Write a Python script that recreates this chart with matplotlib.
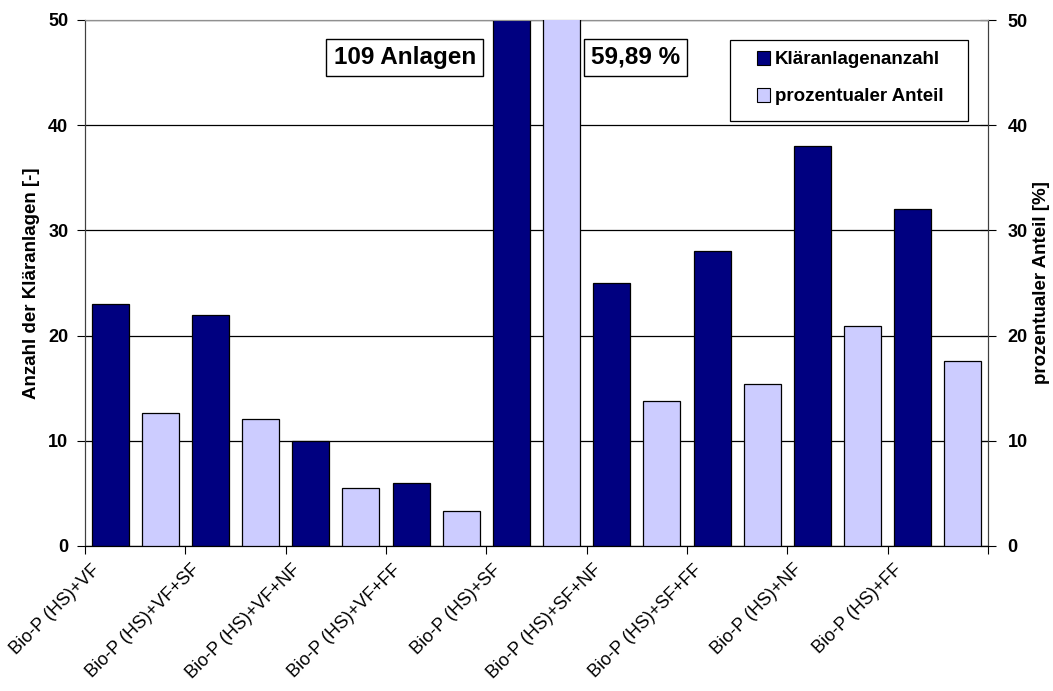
import numpy as np
import matplotlib
matplotlib.use("Agg")
import matplotlib.pyplot as plt
from matplotlib.patches import Patch, Rectangle
from matplotlib.legend_handler import HandlerPatch
from matplotlib.transforms import ScaledTranslation

plt.rcParams['font.family'] = ['Liberation Sans', 'DejaVu Sans']

categories = ['Bio-P (HS)+VF', 'Bio-P (HS)+VF+SF', 'Bio-P (HS)+VF+NF',
              'Bio-P (HS)+VF+FF', 'Bio-P (HS)+SF', 'Bio-P (HS)+SF+NF',
              'Bio-P (HS)+SF+FF', 'Bio-P (HS)+NF', 'Bio-P (HS)+FF']
anzahl = [23, 22, 10, 6, 109, 25, 28, 38, 32]
anteil = [12.64, 12.09, 5.49, 3.30, 59.89, 13.74, 15.38, 20.88, 17.58]

dark = '#000080'
light = '#CCCCFF'

fig = plt.figure(figsize=(10.53, 6.91), dpi=100)
ax = fig.add_axes([85 / 1053, 145 / 691, 903 / 1053, 526 / 691])
ax2 = ax.twinx()

# each category takes two slots: count bar, then percentage bar
n = len(categories)
x_dark = np.arange(n) * 2
x_light = np.arange(n) * 2 + 1
ax.bar(x_dark, anzahl, width=0.74, color=dark, edgecolor='black', linewidth=0.9, zorder=3)
ax2.bar(x_light, anteil, width=0.74, color=light, edgecolor='black', linewidth=0.9, zorder=3)

for a in (ax, ax2):
    a.set_xlim(-0.5, 2 * n - 0.5)
    a.set_ylim(0, 50)
    a.set_yticks(np.arange(0, 51, 10))

ax.set_axisbelow(True)
ax.yaxis.grid(True, color='black', linewidth=0.9)

for a in (ax, ax2):
    for side in ('left', 'right'):
        a.spines[side].set_color('#404040')
    a.spines['top'].set_color('#909090')
    a.spines['bottom'].set_color('black')

ax.tick_params(axis='y', direction='out', length=6, labelsize=13, pad=6)
ax2.tick_params(axis='y', direction='inout', length=12, labelsize=13, pad=8)
for lab in ax.get_yticklabels() + ax2.get_yticklabels():
    lab.set_fontweight('bold')

ticks = np.arange(-0.5, 2 * n, 2)
ax.set_xticks(ticks)
ax.set_xticklabels(categories + [''], rotation=45, ha='right', fontsize=13)
ax.tick_params(axis='x', direction='out', length=6, pad=5)
shift = ScaledTranslation(0.18, 0, fig.dpi_scale_trans)
for lab in ax.get_xticklabels():
    lab.set_transform(lab.get_transform() + shift)

ax.set_ylabel('Anzahl der Kläranlagen [-]', fontsize=13.5, fontweight='bold', labelpad=6)
ax2.set_ylabel('prozentualer Anteil [%]', fontsize=13.5, fontweight='bold', labelpad=4)

box = dict(boxstyle='square,pad=0.3', facecolor='white', edgecolor='black', linewidth=1)
ax.text(0.354, 0.929, f'{anzahl[4]} Anlagen', transform=ax.transAxes, ha='center', va='center',
        fontsize=17.5, fontweight='bold', bbox=box, zorder=5)
ax.text(0.6096, 0.929, f'{anteil[4]:.2f} %'.replace('.', ','), transform=ax2.transAxes,
        ha='center', va='center', fontsize=17.5, fontweight='bold', bbox=box, zorder=5)


def square_right(legend, orig_handle, xdescent, ydescent, width, height, fontsize):
    # small square key pushed to the right end of the handle area
    return Rectangle((-xdescent + width - height, -ydescent), height, height)


# legend frame drawn separately so the padding can be wider on the sides
ax2.add_patch(Rectangle((0.714, 0.808), 0.264, 0.154, transform=ax2.transAxes,
                        facecolor='white', edgecolor='black', linewidth=0.9, zorder=4))
handles = [Patch(facecolor=dark, edgecolor='black', linewidth=0.8, label='Kläranlagenanzahl'),
           Patch(facecolor=light, edgecolor='black', linewidth=0.8, label='prozentualer Anteil')]
leg = ax2.legend(handles=handles, loc='upper left', bbox_to_anchor=(0.714, 0.962),
                 borderaxespad=0, frameon=False,
                 prop={'weight': 'bold', 'size': 13.5}, handlelength=1.55, handleheight=0.72,
                 handletextpad=0.27, labelspacing=1.05, borderpad=0.6,
                 handler_map={Patch: HandlerPatch(patch_func=square_right)})
leg.set_zorder(6)

fig.savefig('out.png', dpi=100)
